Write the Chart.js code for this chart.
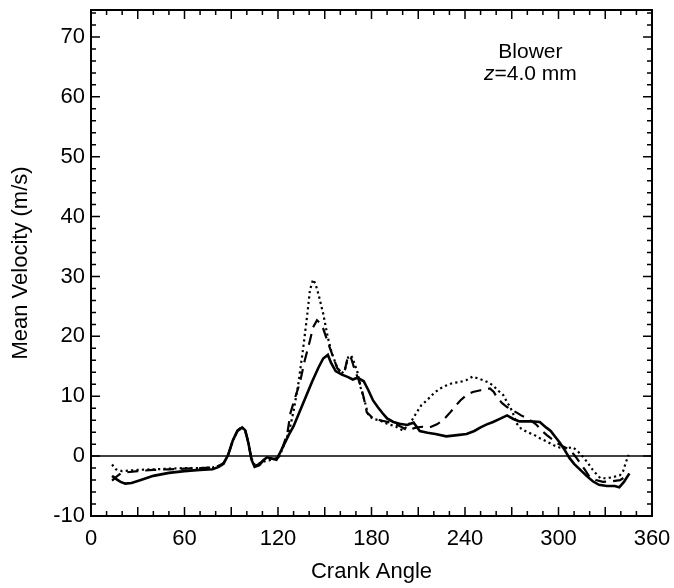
<!DOCTYPE html>
<html>
<head>
<meta charset="utf-8">
<title>Mean Velocity vs Crank Angle</title>
<script src="https://cdn.jsdelivr.net/npm/chart.js@4.4.1/dist/chart.umd.min.js"></script>
<style>
  html, body { margin: 0; padding: 0; background: #fff; }
  #wrap { width: 674px; height: 588px; }
</style>
</head>
<body>
<div id="wrap"><canvas id="c" width="674" height="588"></canvas></div>
<script>
// Crank angle (deg) and mean velocity (m/s) for the three traces
const solidAngle = [13.5, 16, 19, 22, 26, 32, 40, 50, 60, 70, 78, 82, 85, 88, 91, 94, 97, 99, 101, 103,
  105, 108, 111, 113, 116, 119, 121, 124, 127, 130, 134, 138, 142, 146, 149, 152, 154, 157, 161, 165,
  168, 171, 175, 178, 181, 184, 187, 190, 194, 198, 203, 207, 211, 216, 221, 228, 235, 241, 246, 250,
  254, 258, 263, 267, 271, 275, 282, 288, 292, 295, 298, 301, 304, 307, 310, 314, 318, 322, 326, 331,
  336, 339, 342, 344, 345.5];
const solidVel = [-3.3, -3.8, -4.3, -4.6, -4.5, -4.0, -3.3, -2.8, -2.5, -2.3, -2.2, -1.8, -1.3, 0.2, 2.6, 4.2, 4.8, 4.3, 2.2, -0.6,
  -1.8, -1.5, -0.6, -0.2, -0.4, -0.6, 0.4, 2.0, 3.6, 5.0, 7.5, 10.0, 12.5, 14.8, 16.3, 16.9, 15.6, 14.2, 13.6, 13.2,
  12.8, 13.1, 12.5, 11.0, 9.3, 8.2, 7.2, 6.3, 5.7, 5.4, 5.2, 5.6, 4.2, 3.9, 3.7, 3.3, 3.5, 3.7, 4.2, 4.8,
  5.3, 5.7, 6.3, 6.8, 6.2, 5.8, 5.8, 5.7, 4.8, 4.2, 3.2, 2.2, 1.0, -0.3, -1.3, -2.3, -3.3, -4.2, -4.8, -5.0,
  -5.0, -5.2, -4.3, -3.5, -2.9];

const dashAngle = [13.5, 16, 19, 23, 30, 40, 50, 60, 70, 78, 82, 85, 88, 91, 94, 97, 99, 101, 103, 105,
  108, 111, 114, 117, 120, 123, 126, 128, 131, 134, 137, 140.5, 142.5, 145, 147, 149, 152, 154.5, 158, 161,
  163, 165, 167, 169, 172.5, 175, 177, 181, 187, 194, 199, 203, 209, 213, 217.5, 222, 226, 230.5, 234, 237,
  241, 245, 250, 253, 256, 258.5, 260.5, 264, 267, 270, 273, 276, 280, 283, 286, 289, 292.5, 296, 299, 303,
  307.5, 311, 314, 317, 320, 324, 328.5, 334, 339.5, 342, 344.5];
const dashVel = [-4.1, -3.5, -2.9, -2.7, -2.5, -2.3, -2.2, -2.1, -2.0, -1.9, -1.6, -1.2, 0.2, 2.6, 4.3, 4.9, 4.3, 2.2, -0.5, -1.6,
  -1.3, -0.6, -0.3, -0.5, -0.3, 1.5, 3.8, 7.2, 9.8, 12.2, 15.8, 19.3, 21.5, 22.7, 22.2, 21.3, 19.0, 17.2, 14.7, 13.8,
  14.5, 16.8, 16.3, 14.6, 12.2, 9.8, 7.3, 6.3, 5.9, 5.5, 4.9, 4.3, 4.8, 4.9, 4.8, 5.3, 6.0, 7.3, 8.4, 9.3,
  10.2, 10.7, 11.0, 11.1, 11.3, 10.7, 9.8, 8.8, 8.2, 7.7, 7.3, 6.8, 6.3, 5.8, 5.2, 4.3, 3.5, 2.8, 2.2, 1.6,
  1.0, -0.1, -1.2, -2.3, -3.5, -4.0, -4.3, -4.2, -4.0, -3.6, -3.2];

const dotAngle = [13.5, 16, 20, 25, 30, 40, 50, 60, 70, 78, 82, 85, 88, 91, 94, 97, 99, 101, 103, 105,
  108, 112, 116, 119, 121, 124, 127, 130, 133, 136, 138.5, 140.5, 142.5, 144, 146, 149, 152, 154.5, 158, 161,
  163, 165, 167, 169, 171, 173, 176, 178, 181, 185, 190, 195, 200, 203, 206, 209, 212, 215.5, 220, 224,
  228, 232, 237, 241, 245, 248, 251.5, 255, 258, 261, 264.5, 267, 269, 271, 273, 276, 280, 284, 288, 292,
  297, 301, 305.5, 309, 312, 316, 319, 322, 325, 327, 331, 335, 339.5, 341.5, 343, 345];
const dotVel = [-1.4, -2.2, -2.5, -2.4, -2.3, -2.2, -2.1, -2.0, -2.0, -1.9, -1.6, -1.2, 0.2, 2.6, 4.2, 4.8, 4.2, 2.2, -0.4, -1.4,
  -1.2, -0.8, -0.6, -0.4, 0.0, 2.0, 4.0, 7.5, 12.0, 17.7, 23.0, 27.7, 29.5, 28.8, 27.0, 23.8, 19.8, 17.2, 14.8, 13.8,
  14.5, 16.5, 16.8, 15.5, 14.0, 11.5, 8.8, 6.8, 6.2, 6.0, 5.4, 5.0, 4.3, 5.0, 6.0, 7.3, 8.5, 9.3, 10.5, 11.3,
  11.8, 12.2, 12.4, 12.7, 13.3, 13.0, 12.7, 12.3, 11.8, 11.0, 10.2, 9.0, 8.2, 7.0, 5.5, 4.6, 4.0, 3.6, 3.0, 2.5,
  1.8, 1.4, 1.3, 1.5, 0.9, -0.2, -1.2, -2.3, -3.2, -3.7, -3.7, -3.5, -3.2, -2.5, -1.2, 0.2];

// Axis ticks
const xTickLabels = [0, 60, 120, 180, 240, 300, 360];
const yTickLabels = [-10, 0, 10, 20, 30, 40, 50, 60, 70];

const FONT = "'Liberation Sans', Arial, Helvetica, sans-serif";

function pts(xs, ys) { return xs.map((x, i) => ({ x: x, y: ys[i] })); }

// Frame, inward tick marks, zero line and the in-plot label
const decorations = {
  id: 'decorations',
  beforeDatasetsDraw(chart) {
    const { ctx, chartArea: a, scales: { y } } = chart;
    ctx.save();
    ctx.strokeStyle = '#000';
    ctx.lineWidth = 1.5;
    const y0 = y.getPixelForValue(0);
    ctx.beginPath();
    ctx.moveTo(a.left, y0);
    ctx.lineTo(a.right, y0);
    ctx.stroke();
    ctx.restore();
  },
  afterDatasetsDraw(chart) {
    const { ctx, chartArea: a, scales: { x, y } } = chart;
    ctx.save();
    ctx.strokeStyle = '#000';
    ctx.lineWidth = 2;
    ctx.strokeRect(a.left, a.top, a.right - a.left, a.bottom - a.top);
    ctx.lineWidth = 1.5;
    ctx.beginPath();
    for (let v = 10; v < 360; v += 10) {
      const px = x.getPixelForValue(v);
      const len = v % 30 === 0 ? 9 : 5;
      ctx.moveTo(px, a.bottom); ctx.lineTo(px, a.bottom - len);
      ctx.moveTo(px, a.top); ctx.lineTo(px, a.top + len);
    }
    for (let v = -8; v <= 74; v += 2) {
      const py = y.getPixelForValue(v);
      const len = v % 10 === 0 ? 9 : 5;
      ctx.moveTo(a.left, py); ctx.lineTo(a.left + len, py);
      ctx.moveTo(a.right, py); ctx.lineTo(a.right - len, py);
    }
    ctx.stroke();

    // label
    ctx.fillStyle = '#000';
    ctx.textBaseline = 'middle';
    ctx.textAlign = 'center';
    const cx = x.getPixelForValue(282);
    ctx.font = '21px ' + FONT;
    ctx.fillText('Blower', cx, y.getPixelForValue(67.4));
    const line2y = y.getPixelForValue(63.8);
    ctx.textAlign = 'left';
    const zPart = 'z';
    const rest = '=4.0 mm';
    ctx.font = 'italic 21px ' + FONT;
    const wz = ctx.measureText(zPart).width;
    ctx.font = '21px ' + FONT;
    const wr = ctx.measureText(rest).width;
    const start = cx - (wz + wr) / 2;
    ctx.font = 'italic 21px ' + FONT;
    ctx.fillText(zPart, start, line2y);
    ctx.font = '21px ' + FONT;
    ctx.fillText(rest, start + wz, line2y);
    ctx.restore();
  }
};

new Chart(document.getElementById('c'), {
  type: 'line',
  data: {
    datasets: [
      {
        label: 'solid',
        data: pts(solidAngle, solidVel),
        borderColor: '#000',
        borderWidth: 2.6,
        pointRadius: 0,
        tension: 0,
        fill: false
      },
      {
        label: 'dashed',
        data: pts(dashAngle, dashVel),
        borderColor: '#000',
        borderWidth: 2.2,
        borderDash: [11, 7],
        pointRadius: 0,
        tension: 0,
        fill: false
      },
      {
        label: 'dotted',
        data: pts(dotAngle, dotVel),
        borderColor: '#000',
        borderWidth: 2.2,
        borderDash: [2.2, 3.2],
        pointRadius: 0,
        tension: 0,
        fill: false
      }
    ]
  },
  options: {
    responsive: false,
    animation: false,
    devicePixelRatio: 1,
    layout: { padding: { top: 10, right: 22, left: 0, bottom: 0 } },
    plugins: { legend: { display: false }, tooltip: { enabled: false } },
    scales: {
      x: {
        type: 'linear',
        position: 'bottom',
        min: 0,
        max: 360,
        afterBuildTicks(scale) {
          scale.ticks = xTickLabels.map(v => ({ value: v }));
        },
        afterFit(scale) {
          scale.height = 72;
          scale.paddingLeft = 0;
          scale.paddingRight = 0;
        },
        grid: { display: false, drawTicks: false },
        border: { display: false },
        ticks: {
          color: '#000',
          padding: 10,
          maxRotation: 0,
          font: { family: FONT, size: 22 }
        },
        title: {
          display: true,
          text: 'Crank Angle',
          color: '#000',
          font: { family: FONT, size: 22 },
          padding: { top: 0, bottom: 3 }
        }
      },
      y: {
        type: 'linear',
        min: -10,
        max: 74.5,
        afterBuildTicks(scale) {
          scale.ticks = yTickLabels.map(v => ({ value: v }));
        },
        afterFit(scale) {
          scale.width = 91;
          scale.paddingTop = 0;
          scale.paddingBottom = 0;
        },
        grid: { display: false, drawTicks: false },
        border: { display: false },
        ticks: {
          color: '#000',
          padding: 6,
          font: { family: FONT, size: 22 }
        },
        title: {
          display: true,
          text: 'Mean Velocity (m/s)',
          color: '#000',
          font: { family: FONT, size: 22 },
          padding: { top: 8, bottom: 0 }
        }
      }
    }
  },
  plugins: [decorations]
});
</script>
</body>
</html>
